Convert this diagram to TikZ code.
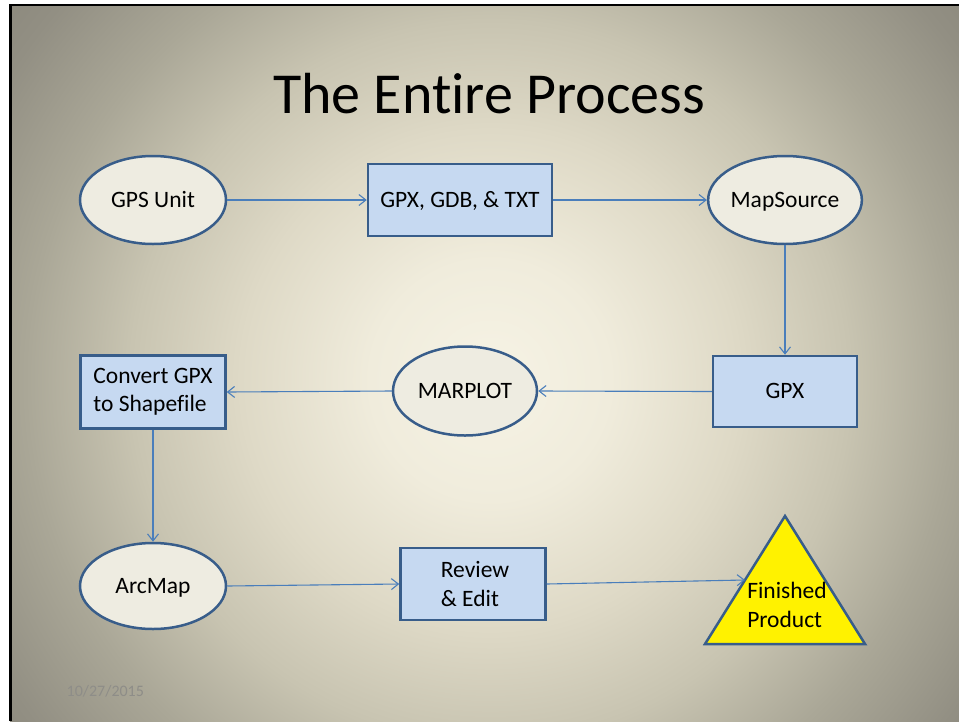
\documentclass[tikz,border=0pt]{standalone}
\usepackage{fontspec}
\setmainfont[Ligatures={NoCommon}]{Carlito}
\usetikzlibrary{shapes.geometric,arrows.meta}
\definecolor{ellfill}{RGB}{238,236,225}
\definecolor{boxfill}{RGB}{198,217,241}
\definecolor{edgecol}{RGB}{56,93,138}
\definecolor{conncol}{RGB}{74,126,187}
\definecolor{datecol}{RGB}{142,141,136}
\definecolor{bgA}{RGB}{246,243,229}
\definecolor{bgB}{RGB}{240,236,220}
\definecolor{bgC}{RGB}{222,217,198}
\definecolor{bgD}{RGB}{200,196,177}
\definecolor{bgE}{RGB}{170,167,151}
\definecolor{bgF}{RGB}{146,143,131}
\definecolor{bgG}{RGB}{132,129,118}
\pgfdeclareradialshading{slidebg}{\pgfpoint{0bp}{0bp}}{%
  color(0bp)=(bgA); color(6.25bp)=(bgB); color(13bp)=(bgC);
  color(18.75bp)=(bgD); color(24.2bp)=(bgE); color(29.7bp)=(bgF);
  color(35.4bp)=(bgG); color(50bp)=(bgG)}
\newcommand{\nodefont}{\fontsize{23.5}{28.4}\selectfont}
\begin{document}
\begin{tikzpicture}[x=1pt,y=-1pt,
  ell/.style={ellipse, draw=edgecol, line width=2.5pt, fill=ellfill,
    minimum width=146pt, minimum height=88pt, inner sep=0pt, font=\nodefont,
    text height=14pt, text depth=0pt},
  boxn/.style={rectangle, draw=edgecol, line width=2.5pt, fill=boxfill,
    minimum width=145pt, minimum height=72pt, inner sep=0pt, font=\nodefont},
  conn/.style={draw=conncol, line width=1.1pt,
    -{Straight Barb[length=7pt,width=11pt]}}]
\useasboundingbox (0,0) rectangle (959,721);
% slide background
\begin{scope}
  \clip (10,5) rectangle (959,721);
  \shade[shading=slidebg] (10,-100) rectangle (970,860);
\end{scope}
\draw[line width=2.6pt, black] (10.5,721) -- (10.5,5) -- (959,5);
% title and date
\node[font=\fontsize{58}{70}\selectfont, anchor=base, inner sep=0pt] (title) at (489,113) {The Entire Process};
\node[font=\fontsize{16}{19}\selectfont, text=datecol, anchor=base west, inner sep=0pt] (date) at (66.5,696.5) {10/27/2015};
% nodes
\node[ell] (gps) at (153,200) {GPS Unit};
\node[boxn, minimum width=184pt, text height=14pt, text depth=0pt] (files) at (460,200) {GPX, GDB, \& TXT};
\node[ell, minimum width=145pt] (ms) at (785,200) {MapSource};
\node[boxn, minimum width=144pt, minimum height=71pt, text height=14pt, text depth=0pt] (gpx) at (785,391.5) {GPX};
\node[ell, minimum width=144pt, minimum height=89pt] (mar) at (465,391) {MARPLOT};
\node[boxn, minimum height=73pt, align=left] (conv) at (153,392) {Convert GPX\\to Shapefile};
\node[ell, minimum height=86pt] (arc) at (153,586) {ArcMap};
\node[boxn, align=left] (rev) at (473,584) {\hspace*{4pt}Review\\\hspace*{4pt}\& Edit};
% triangle
\coordinate (ta) at (785,516);
\coordinate (tl) at (705,644);
\coordinate (tr) at (865,644);
\draw[draw=edgecol, line width=2.5pt, fill=yellow] (ta) -- (tl) -- (tr) -- cycle;
\node[font=\nodefont, align=left, inner sep=0pt] (fin) at (787,605) {Finished\\Product};
\coordinate (finin) at (745,580);
% connectors
\draw[conn] (gps.east) -- (files.west);
\draw[conn] (files.east) -- (ms.west);
\draw[conn] (ms.south) -- (gpx.north);
\draw[conn] (gpx.west) -- (mar.east);
\draw[conn] (mar.west) -- (conv.east);
\draw[conn] (conv.south) -- (arc.north);
\draw[conn] (arc.east) -- (rev.west);
\draw[conn] (rev.east) -- (finin);
\end{tikzpicture}
\end{document}
